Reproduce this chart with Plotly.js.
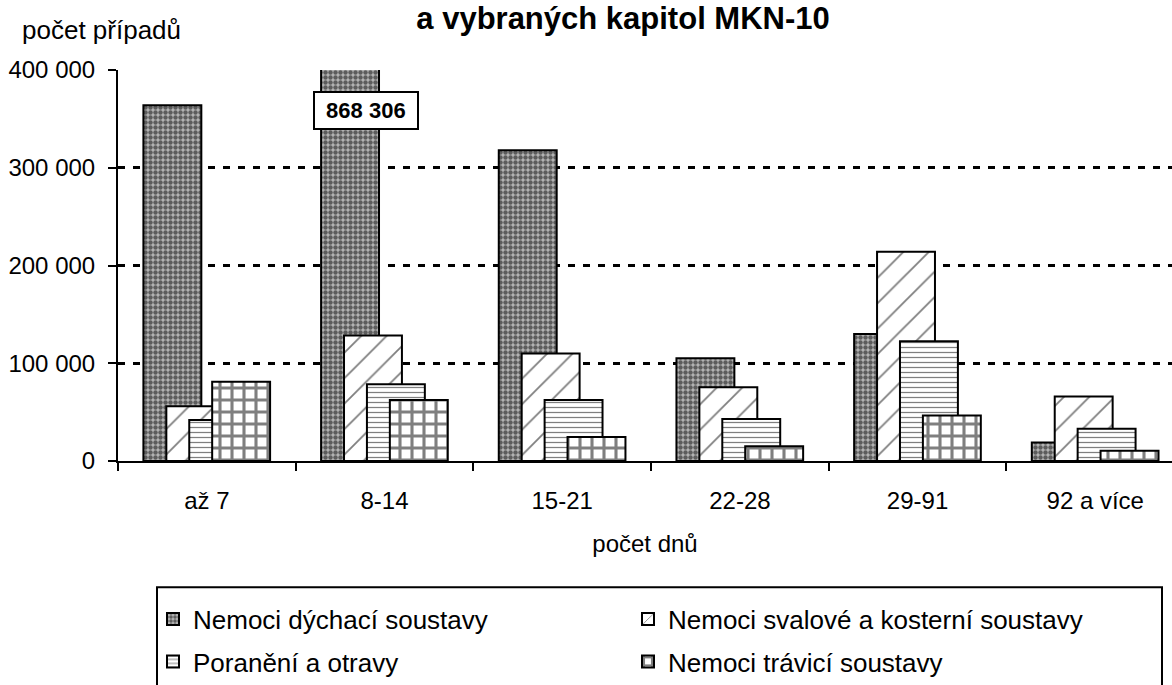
<!DOCTYPE html>
<html>
<head>
<meta charset="utf-8">
<script src="https://cdn.plot.ly/plotly-3.0.1.min.js"></script>
<style>
  html, body { margin: 0; padding: 0; background: #fff; overflow: hidden; }
  #chart { width: 1172px; height: 685px; }
</style>
</head>
<body>
<div id="chart"></div>
<script>
// ---- data ----
const categories = ["až 7", "8-14", "15-21", "22-28", "29-91", "92 a více"];
const seriesNames = [
  "Nemoci dýchací soustavy",
  "Nemoci svalové a kosterní soustavy",
  "Poranění a otravy",
  "Nemoci trávicí soustavy"
];
const respiratory   = [364000, 868306, 318000, 105000, 130000, 19000];
const musculoskel   = [56000, 128500, 110000, 75500, 214000, 66000];
const injuries      = [42000, 78500, 62500, 43000, 122500, 33000];
const digestive     = [81000, 62500, 24500, 15000, 46500, 10500];
const yTickValues   = [0, 100000, 200000, 300000, 400000];
const yTickLabels   = ["0", "100 000", "200 000", "300 000", "400 000"];
const titleText     = "a vybraných kapitol MKN-10";
const yLabel        = "počet případů";
const xLabel        = "počet dnů";

// ---- styling ----
const FONT = '"Liberation Sans", Arial, sans-serif';
const values = [respiratory, musculoskel, injuries, digestive];
const patterns = [
  {shape: ".", size: 5, solidity: 0.62, fgcolor: "#000", bgcolor: "#b8b8b8", fillmode: "overlay"},
  {shape: "/", size: 18, solidity: 0.1, fgcolor: "#000", bgcolor: "#fff", fillmode: "overlay"},
  {shape: "-", size: 5, solidity: 0.25, fgcolor: "#000", bgcolor: "#fff", fillmode: "overlay"},
  {shape: "+", size: 12, solidity: 0.45, fgcolor: "#000", bgcolor: "#fff", fillmode: "overlay"}
];
const legends = ["legend", "legend", "legend2", "legend2"];
const barWidth = 0.326;
const step = 0.129;
const start = -0.357;

const traces = values.map((v, i) => ({
  type: "bar",
  name: seriesNames[i],
  x: categories,
  y: v,
  width: barWidth,
  offset: start + i * step,
  marker: {color: "#fff", line: {color: "#000", width: 2}, pattern: patterns[i]},
  legend: legends[i],
  hoverinfo: "x+y+name"
}));

function fmt(n) {
  return String(n).replace(/\B(?=(\d{3})+(?!\d))/g, " ");
}

const legendCommon = {
  orientation: "h",
  x: (153 - 118) / 1054, xanchor: "left",
  yanchor: "middle",
  entrywidth: 430, entrywidthmode: "pixels",
  itemwidth: 30,
  font: {family: FONT, size: 26, color: "#000"},
  bgcolor: "rgba(0,0,0,0)", borderwidth: 0
};

const layout = {
  width: 1172,
  height: 685,
  margin: {l: 118, r: 0, t: 70, b: 222},
  paper_bgcolor: "#fff",
  plot_bgcolor: "#fff",
  barmode: "overlay",
  font: {family: FONT, size: 24, color: "#000"},
  title: {
    text: titleText,
    font: {family: FONT, size: 31, color: "#000", weight: "bold"},
    x: 0.5316, xanchor: "center", xref: "container",
    y: 0.974, yanchor: "middle", yref: "container"
  },
  xaxis: {
    type: "category",
    range: [-0.5, 5.432],
    showline: true, linecolor: "#000", linewidth: 2,
    ticks: "outside", tickson: "boundaries", ticklen: 8, tickwidth: 2, tickcolor: "#000",
    ticklabelstandoff: 17,
    showgrid: false, zeroline: false,
    tickfont: {family: FONT, size: 24, color: "#000"},
    title: {text: xLabel, font: {family: FONT, size: 24, color: "#000"}, standoff: 22}
  },
  yaxis: {
    range: [0, 400000],
    tickvals: yTickValues, ticktext: yTickLabels,
    showline: true, linecolor: "#000", linewidth: 2,
    ticks: "outside", ticklen: 8, tickwidth: 2, tickcolor: "#000",
    ticklabelstandoff: 8,
    showgrid: true, gridcolor: "#000", gridwidth: 3, griddash: "7px,8px",
    zeroline: false,
    tickfont: {family: FONT, size: 24, color: "#000"}
  },
  legend: Object.assign({}, legendCommon, {y: (463 - 622) / 393}),
  legend2: Object.assign({}, legendCommon, {y: (463 - 665) / 393}),
  shapes: [{
    type: "rect", xref: "paper", yref: "paper",
    x0: (157 - 118) / 1054, x1: (1162 - 118) / 1054,
    y0: (463 - 590) / 393, y1: (463 - 700) / 393,
    line: {color: "#000", width: 2}, fillcolor: "rgba(0,0,0,0)", layer: "above"
  }],
  annotations: [
    {
      text: yLabel, xref: "paper", yref: "paper",
      x: (20 - 118) / 1054, xanchor: "left",
      y: (463 - 30) / 393, yanchor: "middle",
      showarrow: false, font: {family: FONT, size: 26, color: "#000"}
    },
    {
      text: "<b>\u00a0" + fmt(respiratory[1]) + "\u00a0</b>", xref: "x", yref: "paper",
      x: categories[1], xshift: -19,
      y: (463 - 111) / 393, yanchor: "middle",
      showarrow: false, font: {family: FONT, size: 22, color: "#000"},
      bgcolor: "#fff", bordercolor: "#000", borderwidth: 2, borderpad: 5
    }
  ]
};

Plotly.newPlot("chart", traces, layout, {displayModeBar: false, staticPlot: true});
</script>
</body>
</html>
